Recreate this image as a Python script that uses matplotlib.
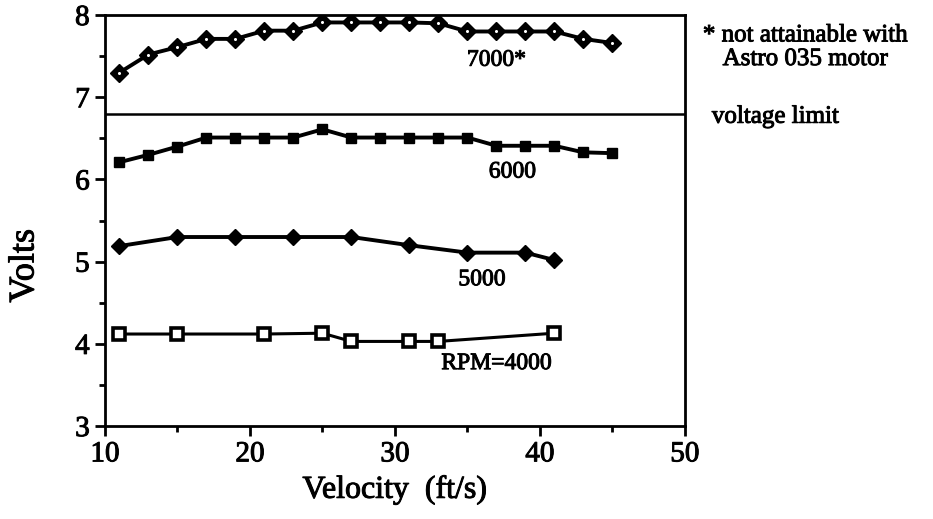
import matplotlib
matplotlib.use("Agg")
import matplotlib.pyplot as plt
import matplotlib.patheffects as pe
from matplotlib.ticker import MultipleLocator

plt.rcParams['font.family'] = ['Liberation Serif', 'DejaVu Serif']
ink = [pe.withStroke(linewidth=0.7, foreground='black')]

x7000 = [11, 13, 15, 17, 19, 21, 23, 25, 27, 29, 31, 33, 35, 37, 39, 41, 43, 45]
v7000 = [7.3, 7.52, 7.61, 7.71, 7.71, 7.81, 7.81, 7.91, 7.91, 7.91, 7.91, 7.9, 7.8, 7.8, 7.8, 7.8, 7.71, 7.66]

x6000 = [11, 13, 15, 17, 19, 21, 23, 25, 27, 29, 31, 33, 35, 37, 39, 41, 43, 45]
v6000 = [6.21, 6.3, 6.4, 6.51, 6.51, 6.51, 6.51, 6.61, 6.51, 6.51, 6.51, 6.51, 6.51, 6.41, 6.41, 6.41, 6.33, 6.32]

x5000 = [11, 15, 19, 23, 27, 31, 35, 39, 41]
v5000 = [5.19, 5.3, 5.3, 5.3, 5.3, 5.2, 5.11, 5.11, 5.02]

x4000 = [11, 15, 21, 25, 27, 31, 33, 41]
v4000 = [4.12, 4.12, 4.12, 4.13, 4.03, 4.03, 4.03, 4.13]

voltage_limit = 6.8

fig = plt.figure(figsize=(9.33, 5.19), dpi=100)
ax = fig.add_axes([0.1125, 0.179, 0.6215, 0.792])

ax.plot(x7000, v7000, color='black', lw=2.8, marker='D', ms=9.5, mfc='black', mec='black')
ax.plot(x7000, v7000, ls='none', marker='o', ms=1.2, mfc='white', mec='white')
ax.plot(x6000, v6000, color='black', lw=2.8, marker='s', ms=6.5, mfc='black', mec='black')
ax.plot(x5000, v5000, color='black', lw=2.8, marker='D', ms=8, mfc='black', mec='black')
ax.plot(x4000, v4000, color='black', lw=2.2, marker='s', ms=8, mfc='white', mec='black', mew=2.6)

ax.axhline(voltage_limit, color='black', lw=1.8)

ax.text(37.0, 7.45, '7000*', ha='center', va='center', fontsize=17, path_effects=ink)
ax.text(38.1, 6.09, '6000', ha='center', va='center', fontsize=17, path_effects=ink)
ax.text(36.0, 4.78, '5000', ha='center', va='center', fontsize=17, path_effects=ink)
ax.text(37.0, 3.76, 'RPM=4000', ha='center', va='center', fontsize=17, path_effects=ink)

ax.set_xlim(10, 50)
ax.set_ylim(3, 8)
ax.xaxis.set_major_locator(MultipleLocator(10))
ax.xaxis.set_minor_locator(MultipleLocator(5))
ax.yaxis.set_major_locator(MultipleLocator(1))
ax.yaxis.set_minor_locator(MultipleLocator(0.5))
ax.tick_params(which='major', direction='out', length=7, width=2, labelsize=21, pad=4)
ax.tick_params(which='minor', direction='out', length=4, width=2)
for lab in ax.get_xticklabels() + ax.get_yticklabels():
    lab.set_path_effects(ink)
for s in ax.spines.values():
    s.set_linewidth(2)

ax.set_xlabel('Velocity  (ft/s)', fontsize=23, labelpad=6, path_effects=ink)
ax.set_ylabel('Volts', fontsize=26, path_effects=ink, va='center')
ax.yaxis.set_label_coords(-0.138, 0.39)

fig.text(0.863, 0.909, '* not attainable with\nAstro 035 motor', ha='center', va='center',
         fontsize=18, linespacing=1.1, path_effects=ink)
fig.text(0.763, 0.775, 'voltage limit', ha='left', va='center', fontsize=18, path_effects=ink)

fig.savefig('out.png', dpi=100)
